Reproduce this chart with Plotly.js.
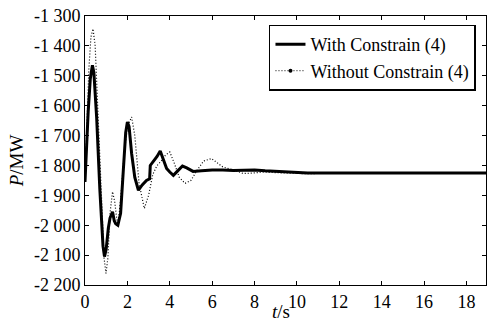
<!DOCTYPE html>
<html>
<head>
<meta charset="utf-8">
<script src="https://cdn.plot.ly/plotly-3.0.1.min.js"></script>
<style>html,body{margin:0;padding:0;background:#fff;}#chart{width:487px;height:322px;}</style>
</head>
<body>
<div id="chart"></div>
<script>
// Time (s) and power (MW)
const tWith = [0,0.05,0.15,0.25,0.35,0.42,0.55,0.7,0.85,0.92,1.0,1.1,1.18,1.3,1.38,1.45,1.55,1.68,1.8,1.92,2.0,2.08,2.2,2.35,2.52,2.7,2.9,3.05,3.08,3.22,3.4,3.55,3.7,3.85,4.0,4.17,4.35,4.6,4.8,5.1,5.5,6.0,6.5,7.0,7.5,8.0,8.5,9.0,9.7,10.5,12,14,16,18,19];
const pWith = [-1855,-1760,-1620,-1510,-1465,-1490,-1640,-1880,-2070,-2105,-2080,-2010,-1976,-1955,-1985,-1995,-2000,-1960,-1820,-1690,-1655,-1670,-1760,-1840,-1883,-1865,-1850,-1845,-1800,-1788,-1770,-1752,-1785,-1810,-1822,-1833,-1820,-1802,-1808,-1820,-1818,-1815,-1815,-1817,-1816,-1815,-1818,-1820,-1824,-1825,-1825,-1825,-1825,-1825,-1825];

const tWithout = [0,0.08,0.18,0.28,0.38,0.48,0.6,0.75,0.9,0.99,1.08,1.18,1.3,1.4,1.5,1.57,1.7,1.85,2.0,2.2,2.35,2.55,2.8,3.0,3.2,3.4,3.6,3.8,4.0,4.2,4.45,4.72,5.0,5.3,5.6,5.97,6.2,6.5,7.0,7.47,8.0,8.4,9.0,10,10.6,11.5,13,15,17,19];
const pWithout = [-1850,-1700,-1480,-1370,-1343,-1400,-1600,-1900,-2110,-2161,-2110,-1960,-1888,-1920,-1980,-1993,-1900,-1760,-1670,-1638,-1700,-1860,-1944,-1900,-1830,-1800,-1785,-1765,-1755,-1790,-1840,-1860,-1850,-1815,-1785,-1777,-1790,-1805,-1815,-1827,-1825,-1822,-1824,-1825,-1828,-1825,-1826,-1825,-1825,-1825];

const xTicks = [0,2,4,6,8,10,12,14,16,18];
const yTicks = [-1300,-1400,-1500,-1600,-1700,-1800,-1900,-2000,-2100,-2200];
const yTickText = ['-1 300','-1 400','-1 500','-1 600','-1 700','-1 800','-1 900','-2 000','-2 100','-2 200'];

const FONT = '"Liberation Serif", "Times New Roman", serif';

const traces = [
  {x: tWith, y: pWith, mode: 'lines', name: 'With Constrain (4)',
   line: {color: '#000', width: 3}},
  {x: tWithout, y: pWithout, mode: 'lines', name: 'Without Constrain (4)',
   line: {color: '#000', width: 1.2, dash: '1px,2px'}, showlegend: false},
  {x: [null], y: [null], mode: 'lines+markers', name: 'Without Constrain (4)',
   line: {color: '#000', width: 1, dash: '1px,2px'}, marker: {color: '#000', size: 4}}
];

const layout = {
  width: 487, height: 322,
  margin: {l: 85, r: 1, t: 16, b: 37},
  paper_bgcolor: '#fff', plot_bgcolor: '#fff',
  font: {family: FONT, size: 16, color: '#000'},
  showlegend: true,
  legend: {x: 0.975, xanchor: 'right', y: 0.968, yanchor: 'top',
    bgcolor: '#fff', bordercolor: '#000', borderwidth: 1.5,
    font: {family: FONT, size: 18, color: '#000'}, tracegroupgap: 0},
  xaxis: {range: [0, 18.92], tickvals: xTicks, ticktext: xTicks.map(String),
    ticks: 'inside', ticklen: 4, tickcolor: '#000', showline: true, linecolor: '#000', linewidth: 1,
    mirror: 'ticks', showgrid: false, zeroline: false,
    tickfont: {family: FONT, size: 18}},
  yaxis: {range: [-2200, -1300], tickvals: yTicks, ticktext: yTickText,
    ticks: 'inside', ticklen: 4, tickcolor: '#000', showline: true, linecolor: '#000', linewidth: 1,
    mirror: 'ticks', showgrid: false, zeroline: false,
    tickfont: {family: FONT, size: 18}},
  annotations: [
    {text: '<i>P</i>/MW', xref: 'paper', yref: 'paper', x: -0.172, y: 0.46,
     xanchor: 'center', yanchor: 'middle',
     showarrow: false, textangle: -90, font: {family: FONT, size: 19}},
    {text: '<i>t</i>/s', xref: 'paper', yref: 'paper', x: 0.49, y: -0.1,
     xanchor: 'center', yanchor: 'middle', showarrow: false, font: {family: FONT, size: 19}}
  ]
};

Plotly.newPlot('chart', traces, layout, {displayModeBar: false, staticPlot: true});
</script>
</body>
</html>
